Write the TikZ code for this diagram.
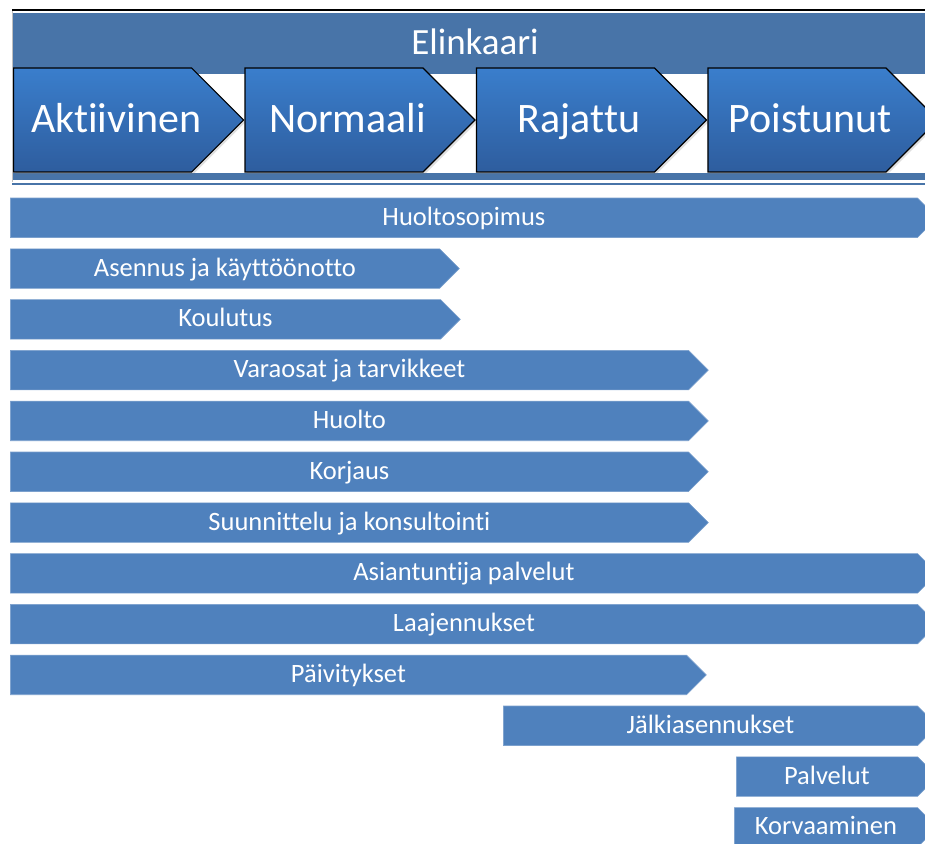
\documentclass[tikz,border=0pt]{standalone}
\usepackage{fontspec}
\setmainfont{Carlito}[Ligatures=NoCommon]
\usetikzlibrary{positioning,shapes.symbols,shadows}
\definecolor{HeadBlue}{RGB}{72,116,168}
\definecolor{StageTop}{RGB}{58,126,204}
\definecolor{StageBot}{RGB}{46,93,158}
\definecolor{BarBlue}{RGB}{79,129,189}
\tikzset{
  stage/.style={signal,signal to=east,draw=black,line width=1.2pt,
    top color=StageTop,bottom color=StageBot,
    drop shadow={shadow xshift=2pt,shadow yshift=-2pt,opacity=0.25},
    minimum width=230pt,minimum height=104pt,inner sep=0pt},
  stagetext/.style={text=white,font=\fontsize{42}{46}\selectfont,
    xshift=13.5pt,text height=30pt,text depth=6pt,inner sep=0pt},
  servbar/.style={signal,signal to=east,fill=BarBlue,draw=BarBlue!75!white,
    line width=0.6pt,minimum height=39.5pt,inner sep=0pt,anchor=west,
    text=white,font=\fontsize{26.5}{29}\selectfont,
    text height=19pt,text depth=4pt},
  headtext/.style={text=white,font=\fontsize{37}{40}\selectfont},
}

\begin{document}
\begin{tikzpicture}[x=1pt,y=-1pt]
\clip (0,0) rectangle (925,843);
% frame of the life cycle
\draw[black,line width=2pt] (12,10) -- (925,10);
\draw[black!25,line width=1pt] (12.5,11) -- (12.5,182);
\fill[HeadBlue] (13,13) rectangle (925,74);
\fill[HeadBlue] (13,173) rectangle (925,180);
\draw[HeadBlue,line width=2pt] (12,183.5) -- (925,183.5);
\node[headtext] (elinkaari) at (475,42) {Elinkaari};
% stages
\node[stage,anchor=west,label={[stagetext]center:Aktiivinen}] (aktiivinen) at (13,120) {};
\node[stage,right=0pt of aktiivinen,label={[stagetext]center:Normaali}] (normaali) {};
\node[stage,right=0pt of normaali,label={[stagetext]center:Rajattu}] (rajattu) {};
\node[stage,right=0pt of rajattu,label={[stagetext]center:Poistunut}] (poistunut) {};
% services
\node[servbar,minimum width=927pt] (huoltosopimus) at (10,217.75) {Huoltosopimus};
\node[servbar,minimum width=449pt] (asennus) at (10,268.55) {Asennus ja käyttöönotto};
\node[servbar,minimum width=450pt] (koulutus) at (10,319.35) {Koulutus};
\node[servbar,minimum width=698pt] (varaosat) at (10,370.15) {Varaosat ja tarvikkeet};
\node[servbar,minimum width=698pt] (huolto) at (10,420.95) {Huolto};
\node[servbar,minimum width=698pt] (korjaus) at (10,471.75) {Korjaus};
\node[servbar,minimum width=698pt] (suunnittelu) at (10,522.55) {Suunnittelu ja konsultointi};
\node[servbar,minimum width=927pt] (asiantuntija) at (10,573.35) {Asiantuntija palvelut};
\node[servbar,minimum width=927pt] (laajennukset) at (10,624.15) {Laajennukset};
\node[servbar,minimum width=696pt] (paivitykset) at (10,674.95) {Päivitykset};
\node[servbar,minimum width=434pt] (jalkiasennukset) at (503,725.75) {Jälkiasennukset};
\node[servbar,minimum width=201pt] (palvelut) at (736,776.55) {Palvelut};
\node[servbar,minimum width=203pt] (korvaaminen) at (734,827.35) {Korvaaminen};
\end{tikzpicture}
\end{document}
